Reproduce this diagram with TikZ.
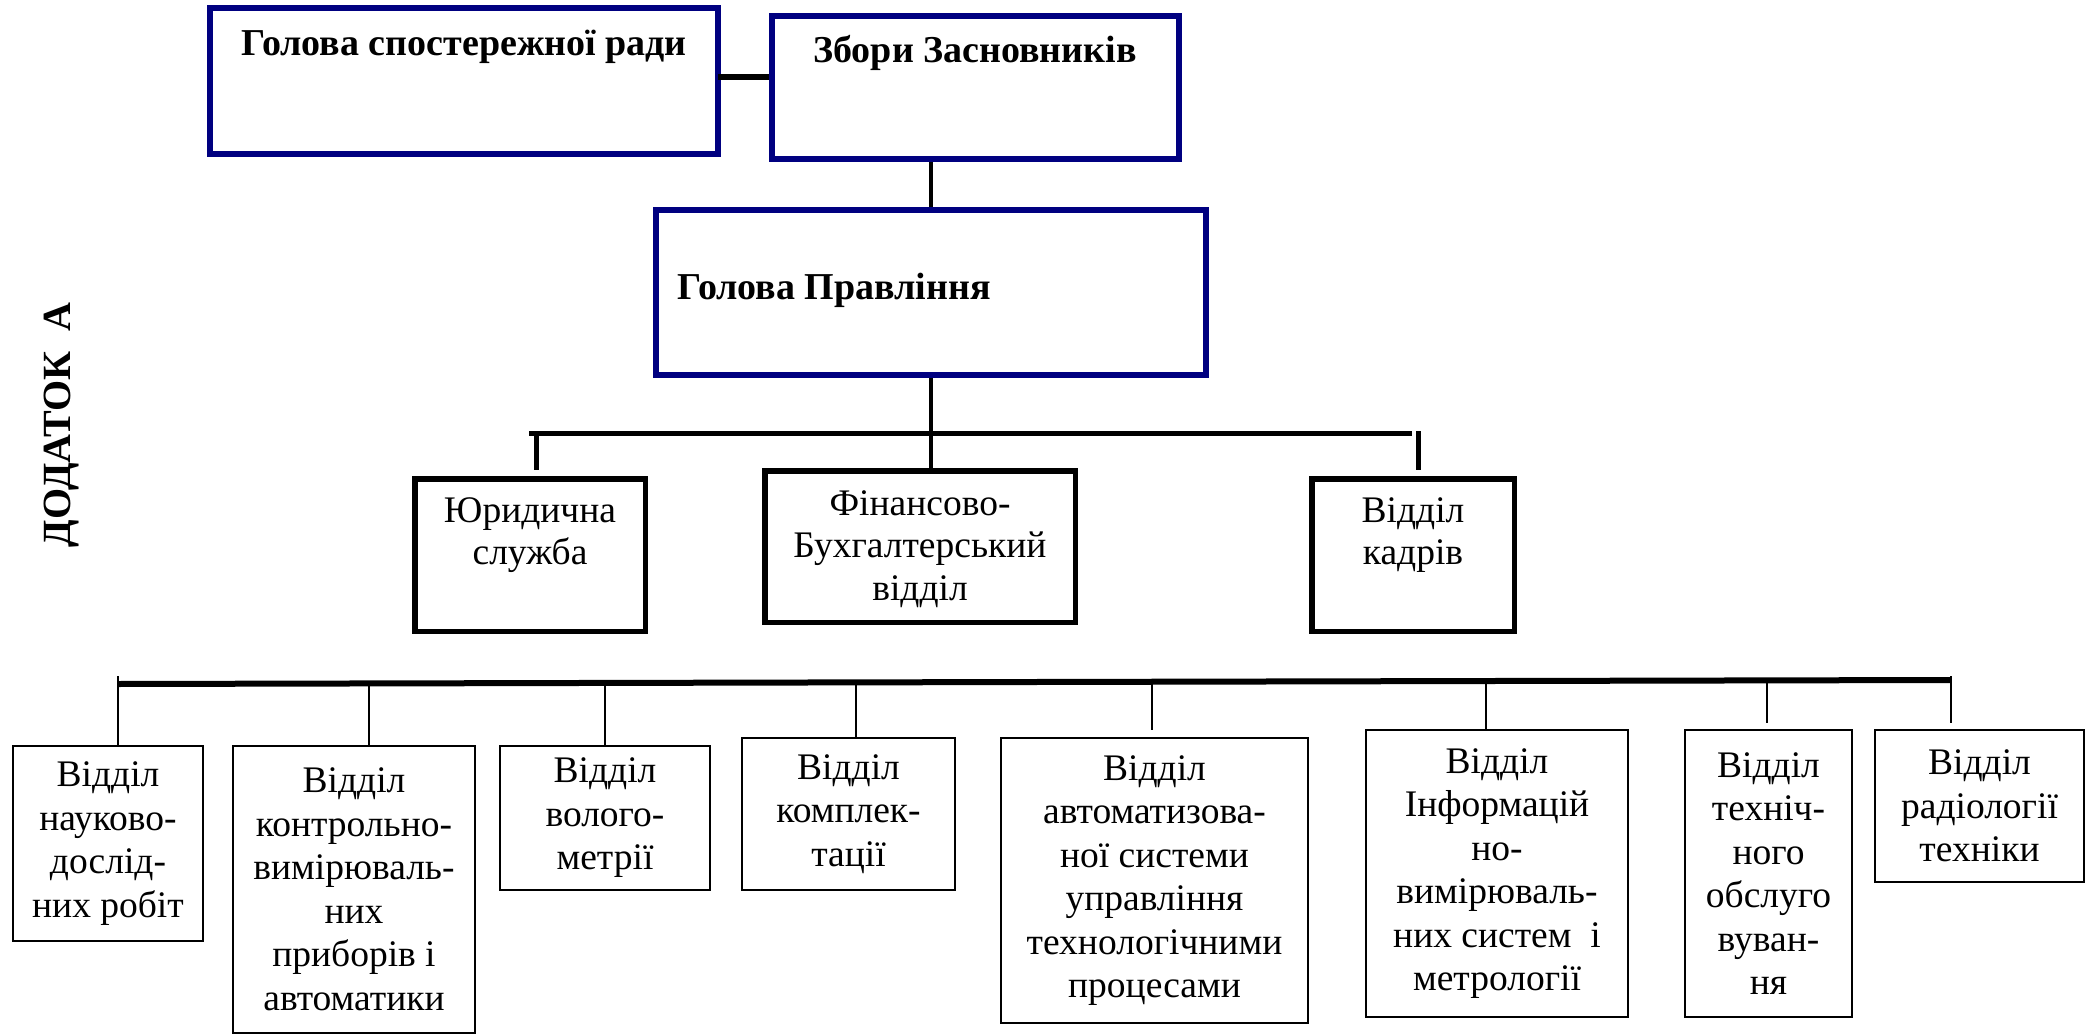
\documentclass[tikz,border=0pt]{standalone}
\usepackage{fontspec}
\setmainfont{Liberation Serif}[Ligatures=TeX]
\definecolor{navyb}{RGB}{0,0,128}
\begin{document}
\begin{tikzpicture}[x=1pt,y=-1pt,
  navybox/.style={draw=navyb, line width=6pt, inner sep=0pt, rectangle},
  midbox/.style={draw=black, line width=5.5pt, inner sep=0pt, rectangle},
  botbox/.style={draw=black, line width=2.2pt, inner sep=0pt, rectangle, align=center, font=\rmfamily\fontsize{37.5}{43.5}\selectfont},
  btxt/.style={font=\rmfamily\fontsize{38}{44}\selectfont\bfseries, inner sep=0pt},
  mtxt/.style={font=\rmfamily\fontsize{37.5}{42.5}\selectfont, align=center, inner sep=0pt},
  thickln/.style={line width=5pt},
  thinln/.style={line width=1.8pt}
]
\useasboundingbox (0,0) rectangle (2096,1035);

% side title
\node[rotate=90, font=\rmfamily\fontsize{40}{46}\selectfont\bfseries, inner sep=0pt] (dod) at (62,425) {ДОДАТОК\ \ А};

% top boxes
\node[navybox, minimum width=508, minimum height=146] (hsr) at (464,81) {};
\node[navybox, minimum width=407, minimum height=143] (zz) at (975.5,87.5) {};
\node[navybox, minimum width=550, minimum height=165] (hp) at (931,292.5) {};
\node[btxt] (thsr) at (464,47) {Голова спостережної ради};
\node[btxt] (tzz) at (975,53) {Збори Засновників};
\node[btxt, anchor=west] (thp) at (677,290) {Голова Правління};

\coordinate (c1) at (718,77);
\draw[line width=6pt] (c1) -- (c1 -| zz.west);
\draw[line width=4.5pt] (hp.north) -- (hp.north |- zz.south);

% middle boxes
\node[midbox, minimum width=230.5, minimum height=152.5] (jur) at (530,555) {};
\node[midbox, minimum width=310.5, minimum height=151.5] (fin) at (920,546.5) {};
\node[midbox, minimum width=202.5, minimum height=152.5] (kad) at (1413,555) {};
\node[mtxt] (tjur) at (530,535) {Юридична\\служба};
\node[mtxt] (tfin) at (920,549) {Фінансово-\\Бухгалтерський\\відділ};
\node[mtxt] (tkad) at (1413,535) {Відділ\\кадрів};

\draw[line width=4.5pt] (hp.south) -- (hp.south |- fin.north);
\coordinate (bl) at (529,433);
\coordinate (br) at (1412,433);
\draw[thickln] (bl) -- (br);
\coordinate (sj) at (536,431);
\coordinate (sk) at (1418,431);
\draw[thickln, shorten >=6pt] (sj) -- (sj |- jur.north);
\draw[thickln, shorten >=6pt] (sk) -- (sk |- kad.north);

% bottom boxes
\node[botbox, minimum width=190, minimum height=195] (b1) at (108,843.5) {Відділ\\науково-\\дослід-\\них робіт};
\node[botbox, minimum width=242, minimum height=287] (b2) at (354,889.5) {Відділ\\контрольно-\\вимірюваль-\\них\\приборів і\\автоматики};
\node[botbox, minimum width=210, minimum height=144] (b3) at (605,818) {Відділ\\волого-\\метрії};
\node[botbox, minimum width=213, minimum height=152] (b4) at (848.5,814) {Відділ\\комплек-\\тації};
\node[botbox, minimum width=307, minimum height=285] (b5) at (1154.5,880.5) {Відділ\\автоматизова-\\ної системи\\управління\\технологічними\\процесами};
\node[botbox, minimum width=262, minimum height=287] (b6) at (1497,873.5) {Відділ\\Інформацій\\но-\\вимірюваль-\\них систем\ \ і\\метрології};
\node[botbox, minimum width=167, minimum height=287] (b7) at (1768.5,873.5) {Відділ\\техніч-\\ного\\обслуго\\вуван-\\ня};
\node[botbox, minimum width=209, minimum height=152] (b8) at (1979.5,806) {Відділ\\радіології\\техніки};

\coordinate (ql) at (118,684);
\coordinate (qr) at (1951,680);
\draw[line width=6pt] (ql) -- (qr);
\coordinate (s1) at (118,676);
\coordinate (s2) at (369,683);
\coordinate (s3) at (605,683);
\coordinate (s4) at (856,682);
\coordinate (s5) at (1152,682);
\coordinate (s6) at (1486,681);
\coordinate (s7) at (1767,681);
\coordinate (s8) at (1951,676);
\draw[thinln] (s1) -- (s1 |- b1.north);
\draw[thinln] (s2) -- (s2 |- b2.north);
\draw[thinln] (s3) -- (s3 |- b3.north);
\draw[thinln] (s4) -- (s4 |- b4.north);
\draw[thinln, shorten >=7pt] (s5) -- (s5 |- b5.north);
\draw[thinln] (s6) -- (s6 |- b6.north);
\draw[thinln, shorten >=6pt] (s7) -- (s7 |- b7.north);
\draw[thinln, shorten >=6pt] (s8) -- (s8 |- b8.north);
\end{tikzpicture}
\end{document}
